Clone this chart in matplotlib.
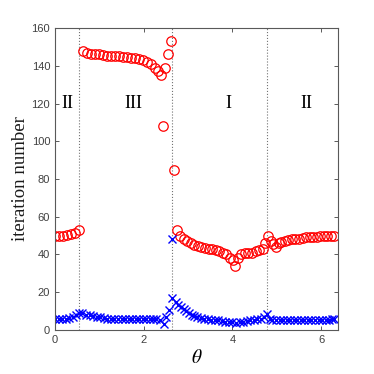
import numpy as np
import matplotlib
matplotlib.use("Agg")
import matplotlib.pyplot as plt

plt.rcParams["mathtext.fontset"] = "stix"

# red circles: iteration number of the first method
theta_red = [0.00, 0.09, 0.18, 0.27, 0.36, 0.45, 0.54,
             0.63, 0.72, 0.81, 0.90, 0.99, 1.08, 1.17, 1.26, 1.35, 1.44,
             1.53, 1.62, 1.71, 1.80, 1.89, 1.98, 2.07, 2.16, 2.25, 2.33,
             2.39, 2.43, 2.49, 2.55, 2.62,
             2.69, 2.75, 2.82, 2.90, 2.98, 3.06, 3.14, 3.22, 3.30, 3.38,
             3.46, 3.54, 3.62, 3.70, 3.78, 3.86, 3.94, 4.02, 4.06, 4.12,
             4.20, 4.28, 4.36, 4.44, 4.52, 4.60, 4.68, 4.74,
             4.81, 4.86, 4.92, 4.98, 5.04, 5.10, 5.18, 5.26, 5.34, 5.42,
             5.50, 5.58, 5.66, 5.74, 5.82, 5.90, 5.98, 6.06, 6.14, 6.22, 6.28]
iter_red = [50, 50, 50, 50.5, 51, 51.5, 53,
            148, 147, 146.5, 146, 146, 145.5, 145, 145, 145, 145,
            144.5, 144.5, 144, 144, 143.5, 143, 142, 141, 139, 137,
            135, 108, 139, 146, 153,
            85, 53, 50, 48, 47, 46, 45, 44.5, 44, 43.5,
            43, 43, 42.5, 42, 41, 40, 38, 37, 34, 38,
            40, 40.5, 41, 41, 42, 42.5, 43, 46,
            50, 47, 45.5, 44, 46, 46.5, 47, 47.5, 48, 48,
            48, 48.5, 49, 49, 49, 49, 49.5, 50, 50, 50, 50]

# blue crosses: iteration number of the second method
theta_blue = [0.00, 0.08, 0.16, 0.24, 0.32, 0.40, 0.48, 0.55, 0.62, 0.70,
              0.78, 0.86, 0.94, 1.02, 1.10, 1.18, 1.26, 1.34, 1.42, 1.50,
              1.58, 1.66, 1.74, 1.82, 1.90, 1.98, 2.06, 2.14, 2.20, 2.28,
              2.37, 2.45, 2.51, 2.56, 2.63, 2.64, 2.72, 2.78, 2.84, 2.90,
              2.96, 3.02, 3.08, 3.14, 3.20, 3.28, 3.36, 3.44, 3.52, 3.60,
              3.68, 3.76, 3.84, 3.92, 4.00, 4.08, 4.16, 4.24, 4.32, 4.40,
              4.48, 4.56, 4.64, 4.72, 4.78, 4.84, 4.90, 4.98, 5.06, 5.14,
              5.22, 5.30, 5.38, 5.46, 5.54, 5.62, 5.70, 5.78, 5.86, 5.94,
              6.02, 6.10, 6.18, 6.24, 6.28]
iter_blue = [6, 6, 6, 6, 6.5, 7, 8, 9, 9, 8,
             8, 7.5, 7, 7, 6.5, 6, 6, 6, 6, 6,
             6, 6, 6, 6, 6, 6, 6, 6, 6, 5.5,
             5, 3, 7, 10.5, 48, 17, 15, 13, 12, 11,
             10, 9, 8, 7.5, 7, 6.5, 6, 5.5, 5, 5,
             5, 4.5, 4, 4, 4, 3.5, 4, 4, 4.5, 5,
             5, 5.5, 6, 7, 8.5, 6, 5, 5, 5, 5,
             5, 5, 5, 5, 5, 5, 5, 5, 5, 5,
             5, 5, 5, 6, 6]

boundaries = [0.55, 2.63, 4.78]
region_labels = ["II", "III", "I", "II"]
region_x = [0.28, 1.77, 3.90, 5.67]

fig = plt.figure(figsize=(3.74, 3.74), dpi=100)
ax = fig.add_axes([0.147, 0.118, 0.757, 0.807])

for b in boundaries:
    ax.axvline(b, color="0.45", ls=":", lw=0.8)

ax.plot(theta_red, iter_red, "o", mfc="none", mec="red", ms=6.8, mew=0.9)
ax.plot(theta_blue, iter_blue, "x", color="blue", ms=5.8, mew=1.0)

for lbl, x in zip(region_labels, region_x):
    ax.text(x, 120, lbl, ha="center", va="center", fontsize=13,
            family="Liberation Serif")

ax.set_xlim(0, 6.38)
ax.set_ylim(0, 160)
ax.set_xticks([0, 2, 4, 6])
ax.set_yticks(range(0, 161, 20))
ax.tick_params(direction="in", top=True, right=True, length=3,
               labelsize=8, colors="0.25", width=0.6)
for lab in ax.get_xticklabels() + ax.get_yticklabels():
    lab.set_family("Liberation Sans")
for s in ax.spines.values():
    s.set_color("0.35")
    s.set_linewidth(0.8)

ax.set_ylabel("iteration number", family="Liberation Serif", fontsize=13.5,
              labelpad=1.5, color="0.1")
ax.set_xlabel(r"$\theta$", fontsize=14, labelpad=2)

fig.savefig("out.png", dpi=100)
